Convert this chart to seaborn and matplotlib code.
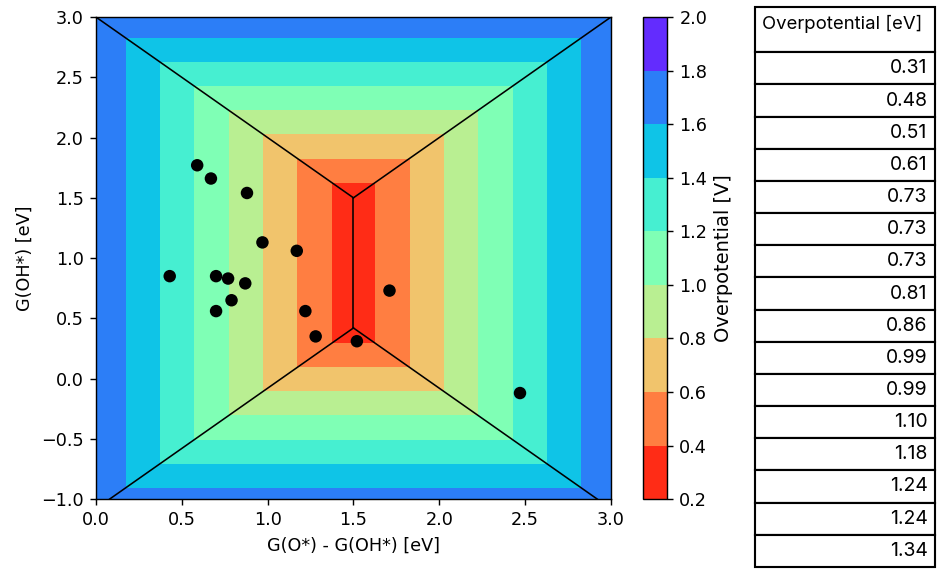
import numpy as np
import pandas as pd
import matplotlib
matplotlib.use('Agg')
import matplotlib.pyplot as plt
import seaborn as sns

# scaling relations for the volcano surface
dG_ooh_oh = 3.0      # G(OOH*) - G(OH*)
total = 4.92
eq_pot = 1.23
levels = np.arange(0.2, 2.01, 0.2)

# adsorption energies of the catalysts
dG_o_oh = [0.59, 0.67, 0.88, 0.97, 1.17, 0.43, 0.70, 0.77, 0.87, 0.79, 0.70, 1.22, 1.28, 1.52, 1.71, 2.47]
dG_oh = [1.77, 1.66, 1.54, 1.13, 1.06, 0.85, 0.85, 0.83, 0.79, 0.65, 0.56, 0.56, 0.35, 0.31, 0.73, -0.12]

# table on the right
table_header = 'Overpotential [eV]'
table_vals = ['0.31', '0.48', '0.51', '0.61', '0.73', '0.73', '0.73', '0.81',
              '0.86', '0.99', '0.99', '1.10', '1.18', '1.24', '1.24', '1.34']

#%% overpotential grid
xg = np.linspace(0, 3, 601)
yg = np.linspace(-1, 3, 801)
X, Y = np.meshgrid(xg, yg)
steps = np.stack([Y, X, dG_ooh_oh - X, total - dG_ooh_oh - Y])
eta = steps.max(axis=0) - eq_pot

dpi = 127
fig = plt.figure(figsize=(940 / dpi, 577 / dpi), dpi=dpi)
ax = fig.add_axes([0.102, 0.135, 0.548, 0.8355])
cax = fig.add_axes([0.684, 0.135, 0.0255, 0.8355])

cf = ax.contourf(X, Y, eta, levels=levels, cmap='rainbow_r')
cb = fig.colorbar(cf, cax=cax, ticks=levels)
cb.set_label('Overpotential [V]', fontsize=11)

# boundaries between the limiting steps
x_mid = dG_ooh_oh / 2
y_top = x_mid
y_bot = total - dG_ooh_oh - x_mid
c_low = dG_ooh_oh - (total - dG_ooh_oh)
kw = dict(color='black', lw=0.9)
ax.plot([0, x_mid], [dG_ooh_oh, y_top], **kw)
ax.plot([x_mid, 3], [y_top, 3], **kw)
ax.plot([x_mid, x_mid], [y_top, y_bot], **kw)
ax.plot([-1 + c_low, x_mid], [-1, y_bot], **kw)
ax.plot([x_mid, (total - dG_ooh_oh) + 1], [y_bot, -1], **kw)

pts = pd.DataFrame({'x': dG_o_oh, 'y': dG_oh})
sns.scatterplot(data=pts, x='x', y='y', color='black', s=50, edgecolor='none', ax=ax, zorder=5)

ax.set_xlim(0, 3)
ax.set_ylim(-1, 3)
ax.set_xticks(np.arange(0, 3.01, 0.5))
ax.set_yticks(np.arange(-1, 3.01, 0.5))
ax.set_xlabel('G(O*) - G(OH*) [eV]')
ax.set_ylabel('G(OH*) [eV]')

#%% table
tax = fig.add_axes([0.8035, 0.0175, 0.191, 0.971])
tax.axis('off')
tbl = tax.table(cellText=[[v] for v in table_vals], colLabels=[table_header],
                bbox=[0, 0, 1, 1], cellLoc='right')
tbl.auto_set_font_size(False)
for (r, c), cell in tbl.get_celld().items():
    cell.set_linewidth(1.2)
    cell.PAD = 0.04
    cell.get_text().set_fontsize(11)
    cell.get_text().set_family('Inter')
    if r == 0:
        cell.set_height(cell.get_height() * 1.42)
        cell.get_text().set_fontsize(10.5)
        cell.get_text().set_ha('left')
        cell.get_text().set_va('baseline')
        cell._loc = 'left'

fig.savefig('out.png', dpi=dpi)
